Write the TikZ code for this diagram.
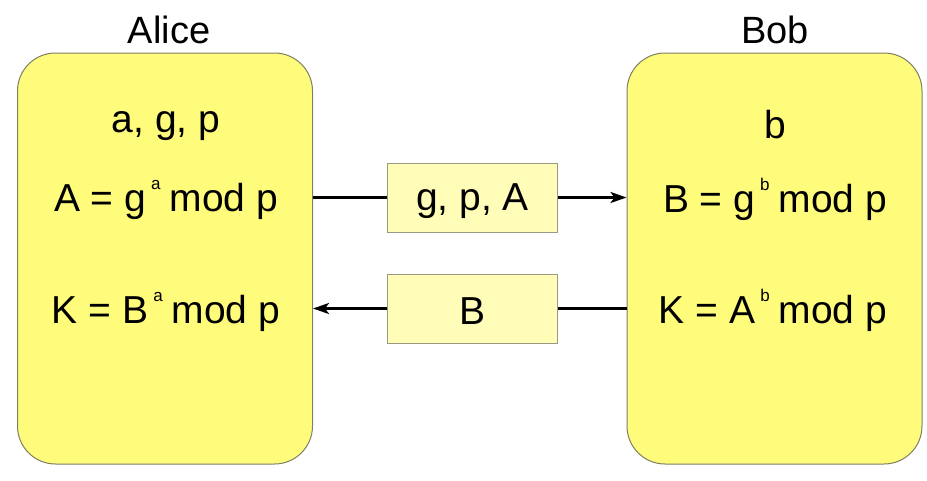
\documentclass[tikz,border=0pt]{standalone}
\usepackage{fontspec}
\setmainfont{Liberation Sans}
\usetikzlibrary{positioning, arrows.meta}

\definecolor{partyfill}{HTML}{FFFB7B}
\definecolor{partyline}{HTML}{7F7F62}
\definecolor{msgfill}{HTML}{FFFDB8}
\definecolor{msgline}{HTML}{9A9A82}

\newcommand{\expo}[1]{\hspace{5pt}\raisebox{22pt}{\fontsize{17}{17}\selectfont #1}\hspace{9pt}}

\begin{document}
\begin{tikzpicture}[x=1pt, y=-1pt,
    party/.style={draw=partyline, fill=partyfill, line width=1pt, rounded corners=38pt,
                  minimum width=295pt, minimum height=411pt},
    msg/.style={draw=msgline, fill=msgfill, line width=1pt, minimum width=170pt,
                minimum height=69pt},
    partyname/.style={anchor=base, inner sep=0pt, font=\fontsize{38}{42}\selectfont},
    txt/.style={anchor=base, inner sep=0pt, font=\fontsize{39}{43}\selectfont},
    link/.style={line width=2.5pt},
    tip/.style={-{Stealth[length=16pt, width=11pt, inset=4pt]}}]

    \useasboundingbox (0,0) rectangle (927,480);

    % the two parties
    \node[party] (alice) at (165,258.5) {};
    \node[party] (bob) at (774.5,258.5) {};
    \node[partyname] (alicename) at (169,43) {Alice};
    \node[partyname] (bobname) at (775,43) {Bob};

    % what Alice knows
    \node[txt] (asecret) at (166,132) {a, g, p};
    \node[txt] (apublic) at (166,211) {A = g\expo{a}mod p};
    \node[txt] (akey) at (166,323) {K = B\expo{a}mod p};

    % what Bob knows
    \node[txt] (bsecret) at (775,138) {b};
    \node[txt] (bpublic) at (775,212) {B = g\expo{b}mod p};
    \node[txt] (bkey) at (773,323) {K = A\expo{b}mod p};

    % messages on the wire
    \node[msg] (tobob) at (472.5,197.5) {};
    \node[txt] (tobobtext) at (472.5,210) {g, p, A};
    \node[msg] (toalice) at (472.5,308.5) {};
    \node[txt] (toalicetext) at (472.5,324) {B};

    \draw[link] (alice.east |- tobob) -- (tobob.west);
    \draw[link, tip] (tobob.east) -- (bob.west |- tobob);
    \draw[link] (bob.west |- toalice) -- (toalice.east);
    \draw[link, tip] (toalice.west) -- (alice.east |- toalice);

\end{tikzpicture}
\end{document}
